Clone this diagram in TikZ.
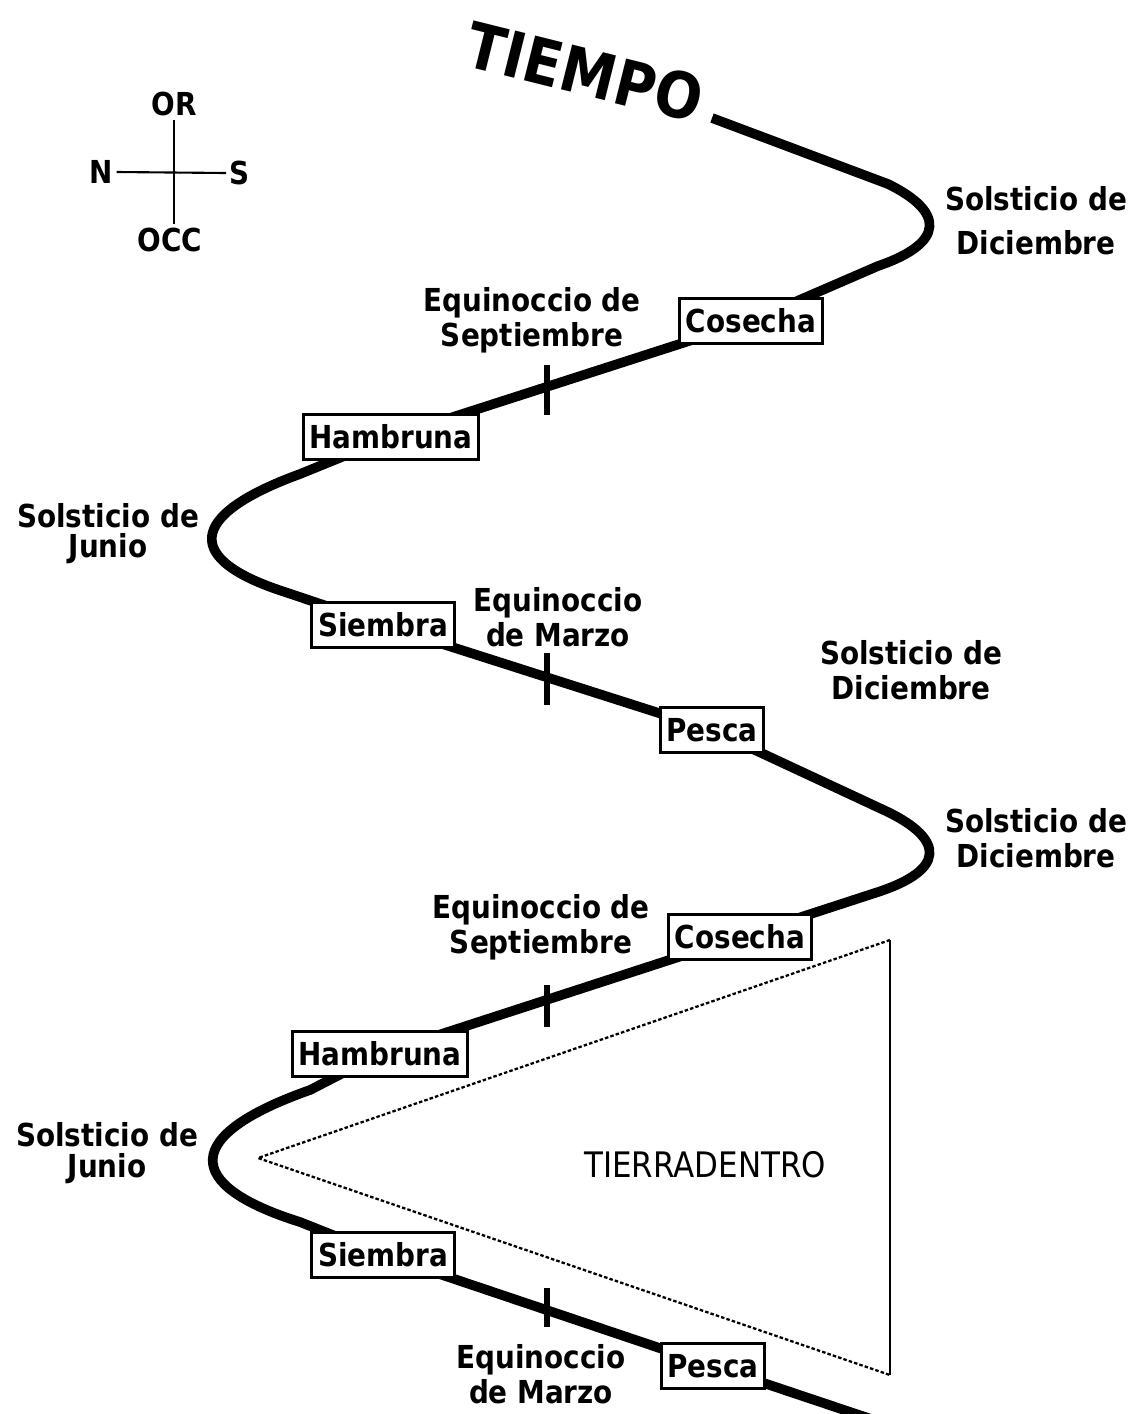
\documentclass[tikz,border=0pt]{standalone}
\usepackage{fontspec}
\setmainfont{DejaVu Sans}[FakeStretch=0.88]
\usetikzlibrary{backgrounds}

\begin{document}
\begin{tikzpicture}
      [x = 0.02cm, y = -0.02cm,
      season/.style = {
         font = \fontsize{18}{20}\selectfont\bfseries,
         align = center,
         inner sep = 0pt
      },
      stage/.style = {
         draw,
         fill = white,
         line width = 1.7pt,
         font = \fontsize{18}{20}\selectfont\bfseries,
         inner xsep = 3.5pt,
         inner ysep = 0pt,
         minimum height = 0.9cm
      },
      wind/.style = {font = \fontsize{18}{20}\selectfont\bfseries, inner sep = 2pt},
      timeline/.style = {line width = 5.5pt, line join = round},
      notch/.style = {line width = 3pt},
      zone/.style = {line width = 1.2pt},
      zonedash/.style = {line width = 1.3pt, dash pattern = on 2pt off 1.2pt}]

      \useasboundingbox (0, 0) rectangle (1138, 1414);

      % compass
      \node[wind] (or) at (174, 104) {OR};
      \node[wind] (occ) at (170, 240) {OCC};
      \node[wind] (n) at (101, 172) {N};
      \node[wind] (s) at (240, 173) {S};
      \draw[line width = 1.2pt] (174, 0 |- or.south) -- (174, 0 |- occ.north);
      \draw[line width = 1.2pt] (n.east) -- (s.west);

      \node[font = \fontsize{36}{40}\selectfont\bfseries, rotate = -14, inner sep = 0pt] (tiempo) at (585, 72) {TIEMPO};
      \coordinate (t0) at (712, 118);
      \coordinate (t9) at (880, 1422);

      % seasons
      \node[season] (solDicA) at (1036, 221) {Solsticio de\\[5pt]Diciembre};
      \node[season] (eqSepA) at (532, 320) {Equinoccio de\\Septiembre};
      \node[season] (solJunA) at (108, 534) {Solsticio de\\[-3pt]Junio};
      \node[season] (eqMarA) at (558, 617) {Equinoccio\\de Marzo};
      \node[season] (solDicX) at (911, 670) {Solsticio de\\Diciembre};
      \node[season] (solDicB) at (1036, 838) {Solsticio de\\Diciembre};
      \node[season] (eqSepB) at (541, 927) {Equinoccio de\\Septiembre};
      \node[season] (solJunB) at (107, 1153) {Solsticio de\\[-2pt]Junio};
      \node[season] (eqMarB) at (541, 1374) {Equinoccio\\de Marzo};

      % stages
      \node[stage] (cosA) at (751, 321) {Cosecha};
      \node[stage] (hamA) at (391, 437) {Hambruna};
      \node[stage] (sieA) at (383, 625) {Siembra};
      \node[stage] (pesA) at (712, 730) {Pesca};
      \node[stage] (cosB) at (740, 937) {Cosecha};
      \node[stage] (hamB) at (380, 1054) {Hambruna};
      \node[stage] (sieB) at (383, 1255) {Siembra};
      \node[stage] (pesB) at (713, 1366) {Pesca};

      % tierradentro
      \coordinate (triTop) at (890, 940);
      \coordinate (triTip) at (258, 1158);
      \coordinate (triBot) at (890, 1375);
      \draw[zone] (triTop) -- (triBot);
      \draw[zonedash] (triTop) -- (triTip) -- (triBot);
      \node[font = \fontsize{20}{22}\selectfont] (tierra) at (705, 1165) {TIERRADENTRO};

      \begin{scope}[on background layer]
         \draw[timeline] (t0) -- (888, 184) .. controls (945, 212) and (945, 243) .. (878, 266)
            -- (cosA.center) -- (hamA.center)
            -- (300, 474) .. controls (185, 516) and (185, 560) .. (285, 592)
            -- (sieA.center) -- (pesA.center)
            -- (888, 812) .. controls (945, 840) and (945, 870) .. (878, 892)
            -- (cosB.center) -- (hamB.center)
            -- (310, 1090) .. controls (182, 1135) and (182, 1185) .. (300, 1222)
            -- (sieB.center) -- (pesB.center) -- (t9);
      \end{scope}

      \draw[notch] (547, 365) -- (547, 415);
      \draw[notch] (547, 653) -- (547, 705);
      \draw[notch] (547, 985) -- (547, 1027);
      \draw[notch] (547, 1288) -- (547, 1327);

   \end{tikzpicture}
\end{document}
